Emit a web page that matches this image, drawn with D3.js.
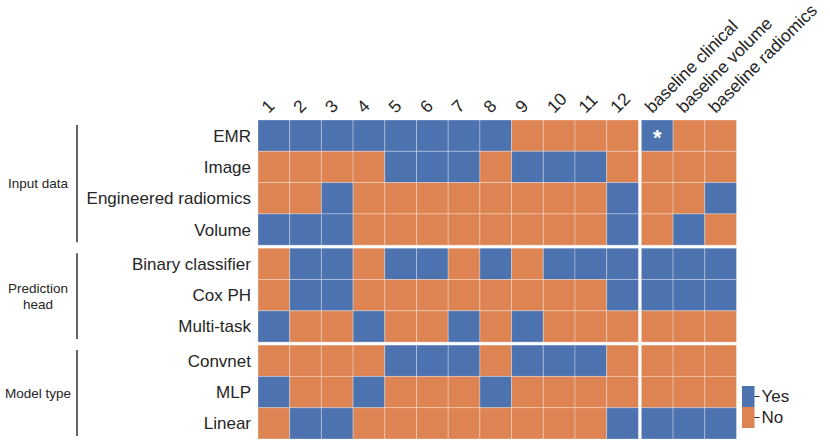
<!DOCTYPE html>
<html>
<head>
<meta charset="utf-8">
<script src="https://cdn.jsdelivr.net/npm/d3@7"></script>
<style>
  body { margin: 0; background: #fff; }
  svg { font-family: "Liberation Sans", Arial, sans-serif; }
</style>
</head>
<body>
<svg id="chart" width="830" height="443"></svg>
<script>
// columns: 12 models + 3 baselines
const models = ["1","2","3","4","5","6","7","8","9","10","11","12"];
const baselines = ["baseline clinical","baseline volume","baseline radiomics"];
const features = ["EMR","Image","Engineered radiomics","Volume",
                  "Binary classifier","Cox PH","Multi-task",
                  "Convnet","MLP","Linear"];
const groups = [
  { name: ["Input data"], first: 0, last: 3 },
  { name: ["Prediction", "head"], first: 4, last: 6 },
  { name: ["Model type"], first: 7, last: 9 }
];
// 1 = Yes, 0 = No  (12 models, then 3 baselines)
const EMR        = [1,1,1,1,1,1,1,1,0,0,0,0, 1,0,0];
const Image      = [0,0,0,0,1,1,1,0,1,1,1,0, 0,0,0];
const Radiomics  = [0,0,1,0,0,0,0,0,0,0,0,1, 0,0,1];
const Volume     = [1,1,1,0,0,0,0,0,0,0,0,1, 0,1,0];
const Binary     = [0,1,1,0,1,1,0,1,0,1,1,1, 1,1,1];
const CoxPH      = [0,1,1,0,0,0,0,0,0,0,0,1, 1,1,1];
const MultiTask  = [1,0,0,1,0,0,1,0,1,0,0,0, 0,0,0];
const Convnet    = [0,0,0,0,1,1,1,0,1,1,1,0, 0,0,0];
const MLP        = [1,0,0,1,0,0,0,1,0,0,0,0, 0,0,0];
const Linear     = [0,1,1,0,0,0,0,0,0,0,0,1, 1,1,1];
const matrix = [EMR, Image, Radiomics, Volume, Binary, CoxPH, MultiTask, Convnet, MLP, Linear];
const legendKeys = ["Yes", "No"];

const columns = models.concat(baselines);

const svg = d3.select("#chart");
const textColor = "#262626";

const color = d3.scaleOrdinal()
                .domain([1, 0])
                .range(["#4c72b0", "#dd8452"]);

// x: band scale plus a small gap before the baselines
const cellW = 31.7, colGap = 3, gridLeft = 258;
const x = d3.scaleBand()
            .domain(columns)
            .range([gridLeft, gridLeft + cellW * columns.length])
            .padding(0);
function colX(c) {
    return x(c) + (baselines.includes(c) ? colGap : 0);
}

// y: band scale plus gaps between row groups
const cellH = 31.3, rowGap = 3, gridTop = 120;
const y = d3.scaleBand()
            .domain(features)
            .range([gridTop, gridTop + cellH * features.length])
            .padding(0);
function rowY(f) {
    const i = features.indexOf(f);
    const g = groups.findIndex(g => i >= g.first && i <= g.last);
    return y(f) + g * rowGap;
}

// cells
const cells = [];
features.forEach((f, i) => {
    columns.forEach((c, j) => {
        cells.push({ feature: f, column: c, value: matrix[i][j] });
    });
});

svg.append("g")
   .selectAll("rect")
   .data(cells)
   .enter().append("rect")
     .attr("x", d => colX(d.column))
     .attr("y", d => rowY(d.feature))
     .attr("width", x.bandwidth())
     .attr("height", y.bandwidth())
     .attr("fill", d => color(d.value))
     .attr("stroke", "rgba(255,255,255,0.3)")
     .attr("stroke-width", 1);

// asterisk on baseline clinical / EMR
svg.append("text")
   .attr("x", colX("baseline clinical") + x.bandwidth() / 2)
   .attr("y", rowY("EMR") + y.bandwidth() / 2 + 9)
   .attr("text-anchor", "middle")
   .attr("fill", "white")
   .attr("font-weight", "bold")
   .attr("font-size", "22px")
   .text("*");

// row labels
svg.append("g")
   .selectAll("text")
   .data(features)
   .enter().append("text")
     .attr("x", gridLeft - 7)
     .attr("y", d => rowY(d) + y.bandwidth() / 2)
     .attr("dy", "0.35em")
     .attr("text-anchor", "end")
     .attr("fill", textColor)
     .style("font-size", "17px")
     .text(d => d);

// column labels, rotated
svg.append("g")
   .selectAll("text")
   .data(columns)
   .enter().append("text")
     .attr("transform", d => `translate(${colX(d) + x.bandwidth() / 2 - 5},${gridTop - 6}) rotate(-45)`)
     .attr("text-anchor", "start")
     .attr("fill", textColor)
     .style("font-size", "17.5px")
     .text(d => d);

// group brackets and labels
const grp = svg.append("g");
groups.forEach(g => {
    const y0 = rowY(features[g.first]) + 5;
    const y1 = rowY(features[g.last]) + y.bandwidth() - 3;
    grp.append("line")
       .attr("x1", 77).attr("x2", 77)
       .attr("y1", y0).attr("y2", y1)
       .attr("stroke", "#111")
       .attr("stroke-width", 1.3);
    const mid = (y0 + y1) / 2;
    const t = grp.append("text")
       .attr("x", 38)
       .attr("text-anchor", "middle")
       .attr("fill", textColor)
       .style("font-size", "13.5px");
    g.name.forEach((line, k) => {
        t.append("tspan")
         .attr("x", 38)
         .attr("y", mid + (k - (g.name.length - 1) / 2) * 16)
         .attr("dy", "0.35em")
         .text(line);
    });
});

// legend (colorbar style)
const legX = 742, legY = 386, legW = 12.5, legH = 21;
const legend = svg.append("g")
                  .selectAll("g")
                  .data(legendKeys)
                  .enter().append("g")
                    .attr("transform", (d, i) => `translate(${legX},${legY + i * legH})`);
legend.append("rect")
      .attr("width", legW)
      .attr("height", legH)
      .attr("fill", d => color(d === "Yes" ? 1 : 0));
legend.append("line")
      .attr("x1", legW).attr("x2", legW + 5)
      .attr("y1", legH / 2).attr("y2", legH / 2)
      .attr("stroke", textColor)
      .attr("stroke-width", 1);
legend.append("text")
      .attr("x", legW + 7)
      .attr("y", legH / 2)
      .attr("dy", "0.35em")
      .attr("fill", textColor)
      .style("font-size", "17px")
      .text(d => d);
</script>
</body>
</html>
